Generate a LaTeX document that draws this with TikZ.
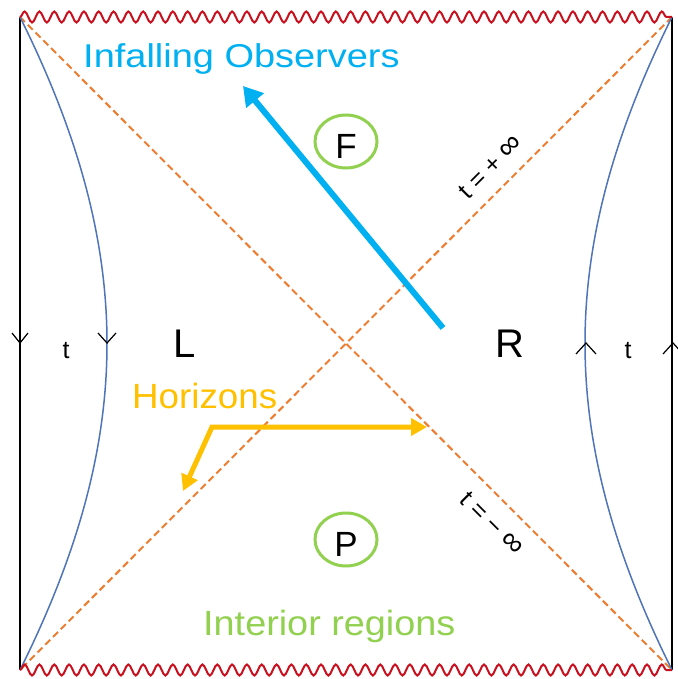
\documentclass[tikz,border=0pt]{standalone}
\usepackage{fontspec}
\setmainfont{Liberation Sans}
\usetikzlibrary{arrows.meta,decorations.pathmorphing}
\definecolor{infall}{HTML}{00B0F0}
\definecolor{regreen}{HTML}{92D050}
\definecolor{horgold}{HTML}{FFC000}
\definecolor{horange}{HTML}{ED7D31}
\definecolor{bdblue}{HTML}{4F74B8}
\definecolor{singred}{RGB}{200,16,30}
\newcommand{\biginf}{{\fontsize{31}{31}\selectfont ∞}}

\begin{document}
\begin{tikzpicture}[x=1pt, y=-1pt,
    wall/.style={draw=black, line width=1.2pt},
    sing/.style={draw=singred, line width=2pt, decorate,
      decoration={snake, segment length=14.818pt, amplitude=5.5pt}},
    hor/.style={draw=horange, line width=2pt, dash pattern=on 7pt off 4pt},
    bdry/.style={draw=bdblue, line width=1.5pt},
    regring/.style={draw=regreen, line width=3pt},
    lab/.style={inner sep=0pt, font=\fontsize{#1}{#1}\selectfont},
    thickarrow/.style={line width=#1, -{Triangle[length=19pt, width=22pt]}},
  ]
  \useasboundingbox[fill=white] (0,0) rectangle (677,679);

  % corners of the diagram
  \coordinate (tl) at (20,17);
  \coordinate (tr) at (672,17);
  \coordinate (bl) at (20,670);
  \coordinate (br) at (672,670);

  % boundaries and horizons
  \draw[wall] (tl) -- (bl);
  \draw[wall] (tr) -- (br);
  \draw[hor] (tl) -- (br);
  \draw[hor] (tr) -- (bl);
  \draw[bdry] (tl) .. controls (136,250) and (136,437) .. (bl);
  \draw[bdry] (tr) .. controls (556,250) and (556,437) .. (br);
  \draw[sing] (tl) -- (tr);
  \draw[sing] (bl) -- (br);

  % time direction ticks
  \draw[wall] (20,343) ++(-8,-10) -- ++(8,10) -- ++(8,-10);
  \draw[wall] (107,343) ++(-9,-10) -- ++(9,10) -- ++(9,-10);
  \draw[wall] (586,343) ++(-10,11) -- ++(10,-11) -- ++(10,11);
  \draw[wall] (673,343) ++(-10,11) -- ++(10,-11) -- ++(10,11);

  % labels
  \node[lab=40, anchor=base] (L) at (184.5,357) {L};
  \node[lab=40, anchor=base] (R) at (510,357) {R};
  \node[lab=25, anchor=base] (tleft) at (66,358) {t};
  \node[lab=25, anchor=base] (tright) at (628,358) {t};
  \node[lab=25, rotate=45] (tplus) at (491,167) {t = + \biginf};
  \node[lab=25, rotate=-45] (tminus) at (492,524) {t = − \biginf};

  % future and past interiors
  \node[lab=35, anchor=base] (F) at (346,158) {F};
  \draw[regring] (346,141.5) ellipse [x radius=31, y radius=26.5];
  \node[lab=35, anchor=base] (P) at (346,556) {P};
  \draw[regring] (346,539.5) ellipse [x radius=31, y radius=26.5];

  \node[lab=33, anchor=base west, text=infall, xscale=1.15] (infall) at (83,68) {Infalling Observers};
  \node[lab=35, anchor=base west, text=horgold, xscale=1.05] (horizons) at (132,408) {Horizons};
  \node[lab=35, anchor=base west, text=regreen, xscale=1.08] (interior) at (203,635) {Interior regions};

  % arrows
  \coordinate (obsstart) at (443,328);
  \coordinate (obsend) at (243,86);
  \draw[infall, thickarrow=6pt] (obsstart) -- (obsend);

  \coordinate (hknee) at (212,427);
  \coordinate (hright) at (427,427);
  \coordinate (hleft) at (183,491);
  \draw[horgold, line width=5pt, {Triangle[length=16pt, width=17pt]}-{Triangle[length=16pt, width=17pt]}]
    (hleft) -- (hknee) -- (hright);
\end{tikzpicture}
\end{document}
